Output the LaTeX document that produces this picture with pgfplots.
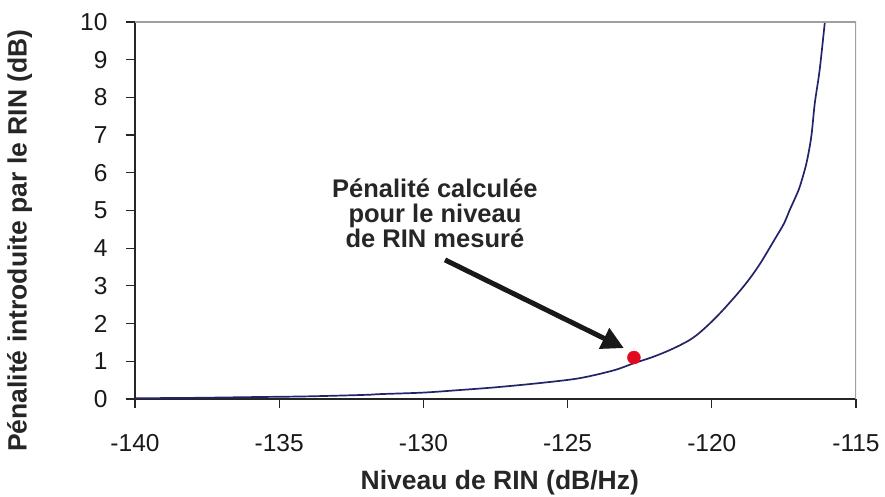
\documentclass[border=0pt]{standalone}
\usepackage{fontspec}
\setmainfont{Liberation Sans}
\usepackage{pgfplots}
\pgfplotsset{compat=1.18}
\usetikzlibrary{arrows.meta}
\definecolor{navy}{RGB}{35,35,105}
\definecolor{dotred}{RGB}{228,10,30}
\definecolor{framegray}{RGB}{160,160,160}
\begin{document}
\begin{tikzpicture}
\begin{axis}[
  scale only axis, width=721pt, height=377pt,
  xmin=-140, xmax=-115, ymin=0, ymax=10,
  xtick={-140,-135,-130,-125,-120,-115},
  ytick={0,1,2,3,4,5,6,7,8,9,10},
  axis lines*=left,
  axis line style={-, black!85, line width=1.2pt},
  tick align=outside, major tick length=9pt,
  tick style={black!85, line width=1.2pt},
  /pgf/number format/assume math mode=true,
  ticklabel style={font=\fontsize{24.5}{28}\selectfont, text=black!90},
  yticklabel style={xshift=-15pt},
  xticklabel style={yshift=-23pt},
  xlabel={Niveau de RIN (dB/Hz)},
  ylabel={Pénalité introduite par le RIN (dB)},
  label style={font=\bfseries\fontsize{26.5}{30}\selectfont, text=black!85},
  xlabel style={at={(axis description cs:0.506,-0.222)}, anchor=center},
  ylabel style={at={(axis description cs:-0.16,0.42)}, anchor=center},
]
\addplot[navy, line width=1.7pt, smooth] coordinates {
(-140,0.02) (-138,0.03) (-136,0.05) (-134,0.07) (-132,0.11) (-131.5,0.13)
(-130,0.17) (-128.7,0.24) (-127.5,0.31) (-126,0.42) (-124.6,0.55) (-123.4,0.76)
(-122.7,0.95) (-122.1,1.10) (-121.6,1.25) (-121.2,1.39) (-120.8,1.55) (-120.5,1.71)
(-120.2,1.91) (-119.9,2.13) (-119.6,2.37) (-119.1,2.80) (-118.7,3.18) (-118.3,3.62)
(-117.8,4.26) (-117.5,4.65) (-117.3,5.01) (-117.1,5.35) (-116.95,5.63) (-116.72,6.25)
(-116.55,6.96) (-116.43,7.84) (-116.26,8.73) (-116.08,10.0)
};
\addplot[only marks, mark=*, mark size=6.5pt, color=dotred] coordinates {(-122.7,1.1)};
\draw[framegray, line width=1.6pt] (rel axis cs:0,1) -- (rel axis cs:1,1) -- (rel axis cs:1,0);
\draw[line width=5pt, black!90, -{Triangle[length=22pt,width=22pt]}] (axis cs:-129.25,3.69) -- (axis cs:-123.05,1.35);
\node[font=\bfseries\fontsize{25.5}{25}\selectfont, align=center, text=black!85] at (axis cs:-129.6,4.93) {Pénalité calculée\\pour le niveau\\de RIN mesuré};
\end{axis}
\pgfresetboundingbox
\path (-135pt,-98pt) rectangle (750pt,399pt);
\end{tikzpicture}
\end{document}
